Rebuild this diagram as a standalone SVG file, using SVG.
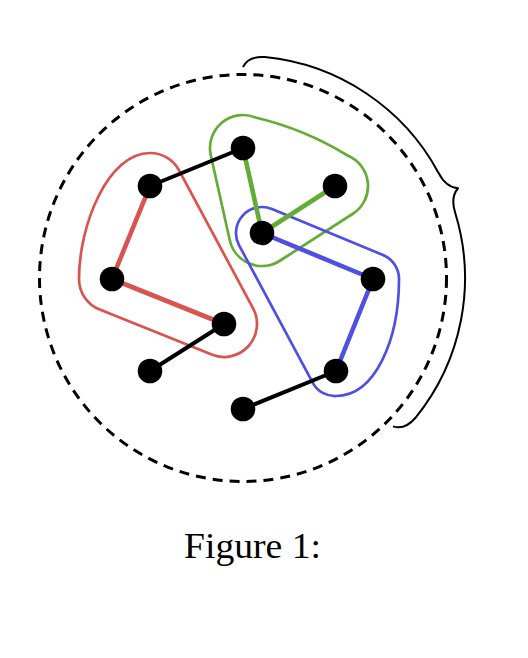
<svg xmlns="http://www.w3.org/2000/svg" width="528" height="658" viewBox="0 0 528 658">
  <style>
    .hull { fill: none; stroke-width: 2.7; stroke-linejoin: round; }
    .edge { stroke-width: 4; stroke-linecap: round; }
    .cedge { stroke-width: 4.6; stroke-linecap: round; }
    .node { fill: #000; }
    .red { stroke: #d9534f; }
    .green { stroke: #63ad35; }
    .blue { stroke: #4f4fe6; }
    .black { stroke: #000; }
  </style>
  <rect width="528" height="658" fill="#fff"/>
  <g id="boundary">
    <circle cx="243" cy="278" r="203.5" fill="none" stroke="#000" stroke-width="3" stroke-dasharray="10 7"/>
    <path d="M 243,67 C 246.24,60.42 254.0,56.27 264.96,57.09 A 222 222 0 0 1 438.41,172.66 C 443.39,182.47 450.62,187.72 458.03,188.27 C 453.22,193.93 451.86,202.76 455.33,213.20 A 222 222 0 0 1 415.49,417.76 C 408.32,426.16 399.96,428.71 393.0,426.39" fill="none" stroke="#000" stroke-width="2" stroke-linejoin="round"/>
  </g>
  <g id="hulls">
    <path id="hull-red" class="hull red" d="M 179.08,170.41 L 253.08,308.41 A 33 33 0 0 1 211.70,354.62 L 99.70,309.62 A 33 33 0 0 1 79,279 C 79,225 108,153 150,153 A 33 33 0 0 1 179.08,170.41 Z"/>
    <path id="hull-green" class="hull green" d="M 255.60,117.50 C 288.3,125.3 318.9,137.9 347.60,155.50 A 33 33 0 0 1 352.86,213.75 L 279.86,260.75 A 33 33 0 0 1 229.79,240.20 L 210.79,155.20 A 33 33 0 0 1 255.60,117.50 Z"/>
    <path id="hull-blue" class="hull blue" d="M 271.95,208.98 L 382.95,254.98 A 26 26 0 0 1 399,279 C 399,340 375,396 336,396 A 25 25 0 0 1 313.09,383.29 L 239.09,245.29 A 26 26 0 0 1 271.95,208.98 Z"/>
  </g>
  <g id="connectors">
    <line class="edge black" x1="243" y1="148" x2="150" y2="186"/>
    <line class="edge black" x1="224" y1="324" x2="150" y2="371"/>
    <line class="edge black" x1="336" y1="371" x2="243" y2="409"/>
    <line class="cedge red" x1="150" y1="186" x2="112" y2="279"/>
    <line class="cedge red" x1="112" y1="279" x2="224" y2="324"/>
    <line class="cedge green" x1="243" y1="148" x2="262" y2="233"/>
    <line class="cedge green" x1="262" y1="233" x2="335" y2="186"/>
    <line class="cedge blue" x1="262" y1="233" x2="373" y2="279"/>
    <line class="cedge blue" x1="373" y1="279" x2="336" y2="371"/>
  </g>
  <g id="node-a"><circle class="node" cx="243" cy="148" r="12.3"/></g>
  <g id="node-b"><circle class="node" cx="150" cy="186" r="12.3"/></g>
  <g id="node-c"><circle class="node" cx="335" cy="186" r="12.3"/></g>
  <g id="node-d"><circle class="node" cx="262" cy="233" r="12.3"/></g>
  <g id="node-e"><circle class="node" cx="112" cy="279" r="12.3"/></g>
  <g id="node-f"><circle class="node" cx="373" cy="279" r="12.3"/></g>
  <g id="node-g"><circle class="node" cx="224" cy="324" r="12.3"/></g>
  <g id="node-h"><circle class="node" cx="150" cy="371" r="12.3"/></g>
  <g id="node-i"><circle class="node" cx="336" cy="371" r="12.3"/></g>
  <g id="node-j"><circle class="node" cx="243" cy="409" r="12.3"/></g>
  <g id="caption">
    <text x="184" y="558" font-family="'Liberation Serif', 'DejaVu Serif', serif" font-size="36" textLength="137" lengthAdjust="spacingAndGlyphs" fill="#000">Figure 1:</text>
  </g>
</svg>
